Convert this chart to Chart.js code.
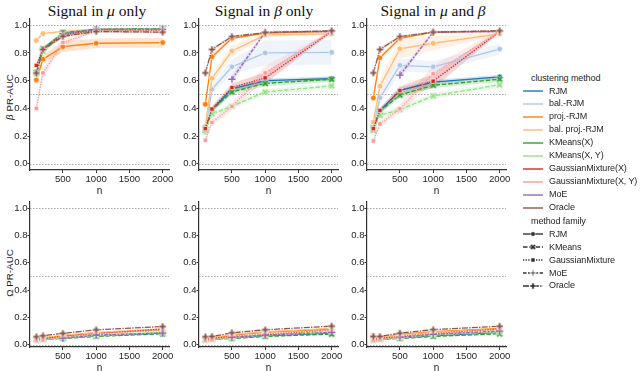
<!DOCTYPE html>
<html>
<head>
<meta charset="utf-8">
<script src="https://cdn.jsdelivr.net/npm/chart.js@4.4.0/dist/chart.umd.min.js"></script>
<style>
body{margin:0;background:#fff;width:640px;height:371px;overflow:hidden;position:relative;font-family:"Liberation Sans",Arial,sans-serif;color:#262626}
canvas{position:absolute}
.ttl{position:absolute;top:2px;font-family:"Liberation Serif","Times New Roman",serif;font-size:15.5px;transform:translateX(-50%);white-space:nowrap;color:#111}
.ylab{position:absolute;font-size:9.8px;transform:translate(-50%,-50%) rotate(-90deg);white-space:nowrap}
.lg{position:absolute;font-size:9px;letter-spacing:-0.1px;line-height:13px;white-space:nowrap}
svg{position:absolute}
</style>
</head>
<body>
<div class="ttl" style="left:97px">Signal in <i>μ</i> only</div>
<div class="ttl" style="left:264px">Signal in <i>β</i> only</div>
<div class="ttl" style="left:433px">Signal in <i>μ</i> and <i>β</i></div>
<div class="ylab" style="left:9px;top:97px"><i>β</i> PR-AUC</div>
<div class="ylab" style="left:9px;top:273px">Ω PR-AUC</div>

<script>
// x values and ticks
const nValues = [100, 200, 500, 1000, 2000];
const xTicks = [500, 1000, 1500, 2000];
const yTicks = [0, 0.2, 0.4, 0.6, 0.8, 1.0];
const refLines = [0, 0.5, 1.0];

const methods = ['RJM', 'bal.-RJM', 'proj.-RJM', 'bal. proj.-RJM', 'KMeans(X)', 'KMeans(X, Y)',
  'GaussianMixture(X)', 'GaussianMixture(X, Y)', 'MoE', 'Oracle'];
const families = ['RJM', 'KMeans', 'GaussianMixture', 'MoE', 'Oracle'];
const methodFamily = [0, 0, 0, 0, 1, 1, 2, 2, 3, 4];
const methodColors = ['#1f77b4', '#aec7e8', '#ff7f0e', '#ffbb78', '#2ca02c', '#98df8a',
  '#d62728', '#ff9896', '#9467bd', '#8c564b'];

// beta PR-AUC, one row per method
const betaMuOnly = [
  [0.65, 0.82, 0.94, 0.97, 0.97],
  [0.65, 0.82, 0.94, 0.97, 0.97],
  [0.605, 0.755, 0.845, 0.87, 0.875],
  [0.89, 0.94, 0.955, 0.97, 0.97],
  [0.66, 0.83, 0.945, 0.97, 0.975],
  [0.65, 0.81, 0.93, 0.965, 0.97],
  [0.71, 0.83, 0.93, 0.965, 0.965],
  [0.40, 0.655, 0.875, 0.96, 0.965],
  [null, null, 0.94, 0.97, 0.97],
  [0.655, 0.825, 0.92, 0.955, 0.95]
];
const betaBetaOnly = [
  [0.235, 0.39, 0.54, 0.60, 0.615],
  [0.228, 0.537, 0.70, 0.80, 0.804],
  [0.43, 0.772, 0.905, 0.944, 0.956],
  [0.27, 0.617, 0.814, 0.93, 0.937],
  [0.25, 0.39, 0.518, 0.58, 0.61],
  [0.24, 0.36, 0.415, 0.518, 0.562],
  [0.254, 0.395, 0.55, 0.62, 0.955],
  [0.17, 0.298, 0.414, 0.656, 0.955],
  [null, null, 0.61, 0.95, 0.955],
  [0.656, 0.825, 0.918, 0.947, 0.96]
];
const betaBoth = [
  [0.274, 0.38, 0.53, 0.59, 0.627],
  [0.27, 0.477, 0.71, 0.70, 0.828],
  [0.475, 0.765, 0.905, 0.95, 0.955],
  [0.30, 0.56, 0.83, 0.87, 0.937],
  [0.25, 0.38, 0.496, 0.567, 0.61],
  [0.24, 0.35, 0.39, 0.49, 0.57],
  [0.254, 0.385, 0.528, 0.596, 0.955],
  [0.165, 0.288, 0.397, 0.65, 0.955],
  [null, null, 0.64, 0.95, 0.955],
  [0.656, 0.825, 0.918, 0.95, 0.96]
];

// half width of the shaded bands (top row)
const ciMuOnly = [
  [0.02, 0.015, 0.01, 0.005, 0.005],
  [0.02, 0.015, 0.01, 0.005, 0.005],
  [0.03, 0.03, 0.04, 0.035, 0.035],
  [0.02, 0.01, 0.01, 0.005, 0.005],
  [0.02, 0.015, 0.01, 0.005, 0.005],
  [0.02, 0.015, 0.01, 0.005, 0.005],
  [0.02, 0.015, 0.01, 0.005, 0.005],
  [0.04, 0.04, 0.02, 0.01, 0.01],
  [0, 0, 0.01, 0.005, 0.005],
  [0.02, 0.015, 0.01, 0.01, 0.01]
];
const ciBetaOnly = [
  [0.02, 0.02, 0.02, 0.015, 0.015],
  [0.02, 0.03, 0.05, 0.09, 0.09],
  [0.03, 0.02, 0.01, 0.005, 0.005],
  [0.03, 0.04, 0.04, 0.015, 0.01],
  [0.02, 0.02, 0.02, 0.02, 0.02],
  [0.02, 0.02, 0.02, 0.02, 0.02],
  [0.02, 0.02, 0.03, 0.04, 0.01],
  [0.02, 0.02, 0.03, 0.05, 0.01],
  [0, 0, 0.03, 0.01, 0.01],
  [0.02, 0.015, 0.01, 0.005, 0.005]
];
const ciBoth = [
  [0.02, 0.02, 0.02, 0.015, 0.015],
  [0.02, 0.04, 0.05, 0.04, 0.04],
  [0.03, 0.02, 0.01, 0.005, 0.005],
  [0.03, 0.05, 0.07, 0.05, 0.01],
  [0.02, 0.02, 0.02, 0.02, 0.02],
  [0.02, 0.02, 0.02, 0.02, 0.02],
  [0.02, 0.02, 0.03, 0.05, 0.01],
  [0.02, 0.02, 0.03, 0.06, 0.01],
  [0, 0, 0.03, 0.01, 0.01],
  [0.02, 0.015, 0.01, 0.005, 0.005]
];

// omega PR-AUC
const omegaMuOnly = [
  [0.04, 0.04, 0.05, 0.065, 0.085],
  [0.04, 0.04, 0.05, 0.07, 0.09],
  [0.045, 0.05, 0.065, 0.085, 0.11],
  [0.045, 0.05, 0.07, 0.09, 0.115],
  [0.035, 0.04, 0.045, 0.06, 0.08],
  [0.035, 0.04, 0.05, 0.065, 0.09],
  [0.04, 0.045, 0.06, 0.08, 0.115],
  [0.03, 0.035, 0.055, 0.08, 0.105],
  [null, null, 0.046, 0.07, 0.085],
  [0.058, 0.065, 0.083, 0.109, 0.133]
];
const omegaBetaOnly = [
  [0.04, 0.04, 0.05, 0.065, 0.085],
  [0.04, 0.04, 0.055, 0.07, 0.09],
  [0.045, 0.05, 0.07, 0.09, 0.115],
  [0.045, 0.05, 0.075, 0.095, 0.12],
  [0.035, 0.04, 0.045, 0.06, 0.078],
  [0.035, 0.04, 0.05, 0.07, 0.10],
  [0.04, 0.045, 0.06, 0.073, 0.11],
  [0.03, 0.035, 0.055, 0.08, 0.11],
  [null, null, 0.053, 0.07, 0.09],
  [0.058, 0.06, 0.087, 0.109, 0.136]
];
const omegaBoth = [
  [0.04, 0.04, 0.05, 0.065, 0.09],
  [0.045, 0.045, 0.055, 0.075, 0.095],
  [0.05, 0.05, 0.075, 0.095, 0.12],
  [0.068, 0.055, 0.07, 0.09, 0.115],
  [0.035, 0.04, 0.045, 0.06, 0.08],
  [0.035, 0.04, 0.05, 0.07, 0.095],
  [0.04, 0.045, 0.06, 0.08, 0.115],
  [0.03, 0.035, 0.055, 0.08, 0.11],
  [null, null, 0.055, 0.075, 0.1],
  [0.06, 0.06, 0.085, 0.11, 0.135]
];

// line dashes per family (seaborn style)
const familyDash = [[], [4.5, 1.8], [1.3, 1.3], [3.5, 1.5, 1.8, 1.5], [6, 1.3, 1.3, 1.3]];

function hexA(hex, a){
  const r = parseInt(hex.slice(1,3),16), g = parseInt(hex.slice(3,5),16), b = parseInt(hex.slice(5,7),16);
  return `rgba(${r},${g},${b},${a})`;
}

// filled plus / X markers drawn on a small canvas
function markerImg(kind, color){
  const s = 9;
  const c = document.createElement('canvas');
  c.width = s; c.height = s;
  const g = c.getContext('2d');
  g.translate(s/2, s/2);
  if(kind === 'X') g.rotate(Math.PI/4);
  const a = 1.2, l = kind === 'X' ? 3.8 : 3.4;
  g.beginPath();
  g.moveTo(-a,-l); g.lineTo(a,-l); g.lineTo(a,-a); g.lineTo(l,-a); g.lineTo(l,a); g.lineTo(a,a);
  g.lineTo(a,l); g.lineTo(-a,l); g.lineTo(-a,a); g.lineTo(-l,a); g.lineTo(-l,-a); g.lineTo(-a,-a);
  g.closePath();
  g.fillStyle = color; g.fill();
  g.strokeStyle = 'rgba(255,255,255,0.9)'; g.lineWidth = 0.6; g.stroke();
  return c;
}

function pointOpts(fam, color){
  if(fam === 0) return {pointStyle:'circle', pointRadius:2.8, pointBorderColor:'#fff', pointBorderWidth:0.6};
  if(fam === 1) return {pointStyle:markerImg('X', color), pointRadius:4};
  if(fam === 2) return {pointStyle:'rect', pointRadius:3, pointBorderColor:'#fff', pointBorderWidth:0.6};
  if(fam === 3) return {pointStyle:'cross', pointRadius:3.6, pointBorderColor:color, pointBorderWidth:1.3};
  return {pointStyle:markerImg('P', color), pointRadius:4};
}

const refPlugin = {
  id: 'refs',
  beforeDatasetsDraw(chart){
    const {ctx, chartArea: a, scales: {y}} = chart;
    ctx.save();
    ctx.strokeStyle = '#a8a8a8';
    ctx.lineWidth = 1;
    ctx.setLineDash([1.5, 1.5]);
    refLines.forEach(v => {
      const py = Math.round(y.getPixelForValue(v)) + 0.5;
      ctx.beginPath(); ctx.moveTo(a.left, py); ctx.lineTo(a.right, py); ctx.stroke();
    });
    ctx.restore();
  }
};

const plotLefts = [30, 199, 367];
const plotW = 139;
const rowsGeom = [{top:19, bottom:170, ymin:-0.045, ymax:1.045}, {top:202, bottom:347, ymin:-0.017, ymax:1.045}];

function makePanel(row, col, values, ci){
  const g = rowsGeom[row];
  const yW = 30, xH = 27, padT = 10, padR = 12;
  const cv = document.createElement('canvas');
  cv.width = yW + plotW + padR;
  cv.height = padT + (g.bottom - g.top) + xH;
  cv.style.left = (plotLefts[col] - yW) + 'px';
  cv.style.top = (g.top - padT) + 'px';
  document.body.appendChild(cv);

  const datasets = [];
  methods.forEach((m, i) => {
    const color = methodColors[i];
    const fam = methodFamily[i];
    if(ci){
      const lo = [], hi = [];
      nValues.forEach((n, k) => {
        if(values[i][k] === null) return;
        lo.push({x:n, y:values[i][k] - ci[i][k]});
        hi.push({x:n, y:values[i][k] + ci[i][k]});
      });
      datasets.push({data:lo, borderWidth:0, pointRadius:0, fill:false, order:20});
      datasets.push({data:hi, borderWidth:0, pointRadius:0, fill:'-1', backgroundColor:hexA(color, 0.2), order:20});
    }
    datasets.push(Object.assign({
      label: m,
      data: nValues.map((n, k) => ({x:n, y:values[i][k]})),
      borderColor: color,
      backgroundColor: color,
      pointBackgroundColor: color,
      borderWidth: 1.3,
      borderDash: familyDash[fam],
      fill: false,
      order: -i
    }, pointOpts(fam, color)));
  });

  const tickFont = {family:'"Liberation Sans", Arial, sans-serif', size:9.6};
  new Chart(cv, {
    type: 'line',
    data: {datasets: datasets},
    options: {
      responsive: false,
      animation: false,
      layout: {padding: {top:padT, right:padR, left:0, bottom:0}},
      plugins: {legend:{display:false}, tooltip:{enabled:false}},
      scales: {
        x: {
          type: 'linear', min: 5, max: 2095,
          afterBuildTicks: s => { s.ticks = xTicks.map(v => ({value:v})); },
          afterFit: s => { s.height = xH; },
          ticks: {callback: v => String(v), color:'#262626', font:tickFont, padding:1, maxRotation:0},
          grid: {drawOnChartArea:false, drawTicks:true, tickLength:3, tickColor:'#333'},
          border: {color:'#333', width:1.2},
          title: {display:true, text:'n', color:'#262626', font:{family:tickFont.family, size:10}, padding:0}
        },
        y: {
          min: g.ymin, max: g.ymax,
          afterBuildTicks: s => { s.ticks = yTicks.map(v => ({value:v})); },
          afterFit: s => { s.width = yW; },
          ticks: {callback: v => v.toFixed(1), color:'#262626', font:tickFont, padding:0},
          grid: {drawOnChartArea:false, drawTicks:true, tickLength:2.5, tickColor:'#333'},
          border: {color:'#333', width:1.2}
        }
      }
    },
    plugins: [refPlugin]
  });
}

makePanel(0, 0, betaMuOnly, ciMuOnly);
makePanel(0, 1, betaBetaOnly, ciBetaOnly);
makePanel(0, 2, betaBoth, ciBoth);
makePanel(1, 0, omegaMuOnly, null);
makePanel(1, 1, omegaBetaOnly, null);
makePanel(1, 2, omegaBoth, null);

// legend (html text + small svg line samples)
const NS = 'http://www.w3.org/2000/svg';
function addText(txt, x, y){
  const d = document.createElement('div');
  d.className = 'lg';
  d.textContent = txt;
  d.style.left = x + 'px';
  d.style.top = (y - 6.5) + 'px';
  document.body.appendChild(d);
}
function addSample(y, color, dash, fam){
  const svg = document.createElementNS(NS, 'svg');
  svg.setAttribute('width', 22); svg.setAttribute('height', 10);
  svg.style.left = '522px'; svg.style.top = (y - 5) + 'px';
  const ln = document.createElementNS(NS, 'line');
  ln.setAttribute('x1', 1); ln.setAttribute('x2', 21); ln.setAttribute('y1', 5); ln.setAttribute('y2', 5);
  ln.setAttribute('stroke', color); ln.setAttribute('stroke-width', 1.4);
  if(dash.length) ln.setAttribute('stroke-dasharray', dash.join(' '));
  svg.appendChild(ln);
  if(fam !== null){
    let mk;
    if(fam === 0){ mk = document.createElementNS(NS, 'circle'); mk.setAttribute('cx', 11); mk.setAttribute('cy', 5); mk.setAttribute('r', 2.3); }
    else if(fam === 2){ mk = document.createElementNS(NS, 'rect'); mk.setAttribute('x', 9); mk.setAttribute('y', 3); mk.setAttribute('width', 4); mk.setAttribute('height', 4); }
    else {
      mk = document.createElementNS(NS, 'path');
      const a = fam === 3 ? 0.6 : 1.1, l = 3;
      mk.setAttribute('d', `M${-a},${-l}H${a}V${-a}H${l}V${a}H${a}V${l}H${-a}V${a}H${-l}V${-a}H${-a}Z`);
      mk.setAttribute('transform', `translate(11,5)${fam === 1 ? ' rotate(45)' : ''}`);
    }
    mk.setAttribute('fill', color);
    mk.setAttribute('stroke', '#fff'); mk.setAttribute('stroke-width', 0.5);
    svg.appendChild(mk);
  }
  document.body.appendChild(svg);
}

addText('clustering method', 531, 78.5);
methods.forEach((m, i) => {
  const y = 91 + i * 12.95;
  addSample(y, methodColors[i], [], null);
  addText(m, 549, y);
});
addText('method family', 531, 221);
families.forEach((f, j) => {
  const y = 234.3 + j * 12.9;
  addSample(y, '#333', familyDash[j], j);
  addText(f, 549, y);
});
</script>
</body>
</html>
